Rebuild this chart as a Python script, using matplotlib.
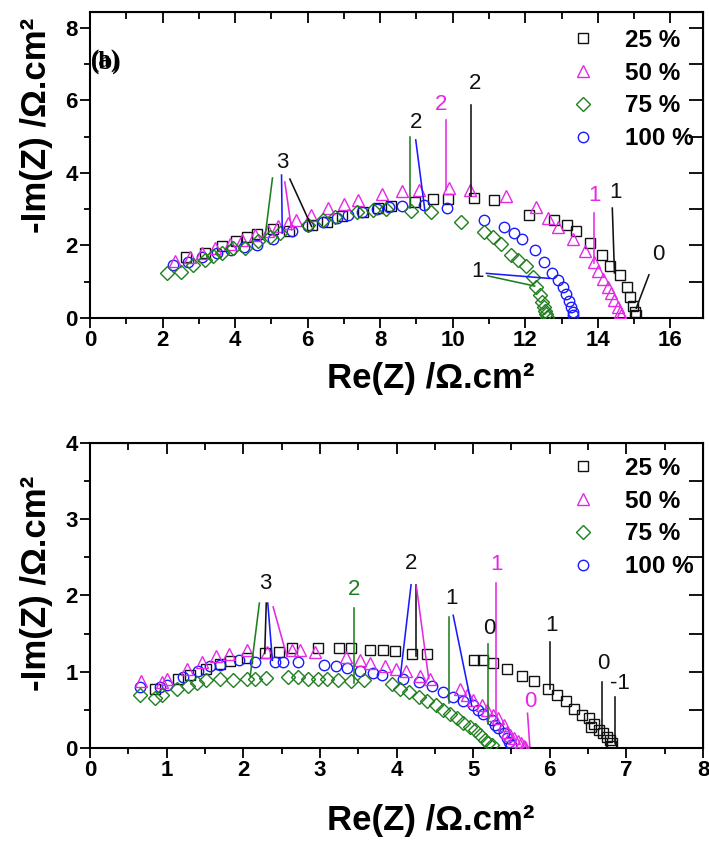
import matplotlib
matplotlib.use("Agg")
import matplotlib.pyplot as plt
from matplotlib.ticker import MultipleLocator

plt.rcParams['font.family'] = ['Liberation Sans', 'DejaVu Sans']

labels = ["25 %", "50 %", "75 %", "100 %"]

# ---------- top panel data (Re, -Im) ----------
a25_x = [2.64, 3.17, 3.65, 4.02, 4.33, 4.59, 5.05, 5.49, 6.11, 6.52, 6.95, 7.53, 7.94, 8.31, 8.95, 9.46, 9.87,
         10.59, 11.14, 12.10, 12.78, 13.15, 13.41, 13.79, 14.12, 14.34, 14.60, 14.80, 14.90, 14.97, 15.03, 15.05]
a25_y = [1.69, 1.78, 1.99, 2.13, 2.23, 2.32, 2.45, 2.41, 2.57, 2.66, 2.80, 2.93, 3.02, 3.10, 3.19, 3.27, 3.29,
         3.32, 3.24, 2.84, 2.70, 2.57, 2.41, 2.08, 1.74, 1.44, 1.19, 0.86, 0.57, 0.33, 0.17, 0.08]
a50_x = [2.34, 2.75, 3.10, 3.45, 3.86, 4.20, 4.55, 4.90, 5.19, 5.45, 5.69, 6.10, 6.57, 7.01, 7.39, 8.06, 8.61,
         9.07, 9.90, 10.49, 11.48, 12.29, 12.63, 12.90, 13.32, 13.64, 13.89, 14.00, 14.14, 14.28, 14.37, 14.46,
         14.55, 14.60, 14.65]
a50_y = [1.58, 1.68, 1.80, 1.92, 2.05, 2.15, 2.28, 2.40, 2.55, 2.62, 2.70, 2.85, 3.03, 3.14, 3.25, 3.41, 3.50,
         3.53, 3.59, 3.53, 3.37, 3.05, 2.75, 2.52, 2.17, 1.85, 1.55, 1.30, 1.07, 0.86, 0.68, 0.50,
         0.31, 0.17, 0.08]
a75_x = [2.11, 2.50, 2.85, 3.17, 3.40, 3.63, 3.95, 4.27, 4.64, 4.96, 5.23, 6.01, 6.43, 6.75, 7.35, 7.81, 8.17,
         8.86, 9.39, 10.24, 10.85, 11.11, 11.34, 11.62, 11.80, 12.03, 12.21, 12.30, 12.40, 12.47, 12.52, 12.55,
         12.58, 12.61]
a75_y = [1.25, 1.28, 1.46, 1.60, 1.71, 1.78, 1.92, 1.92, 2.12, 2.24, 2.34, 2.57, 2.70, 2.79, 2.93, 2.98, 3.01,
         2.95, 2.91, 2.64, 2.38, 2.22, 2.03, 1.74, 1.60, 1.42, 1.14, 0.86, 0.63, 0.45, 0.31, 0.20,
         0.11, 0.04]
a100_x = [2.30, 2.70, 3.10, 3.50, 3.90, 4.25, 4.59, 5.05, 5.56, 6.00, 6.43, 6.80, 7.12, 7.50, 7.90, 8.25, 8.61,
          9.21, 9.85, 10.85, 11.41, 11.69, 11.92, 12.26, 12.52, 12.75, 12.90, 13.04, 13.13, 13.20, 13.27, 13.31,
          13.33]
a100_y = [1.46, 1.55, 1.68, 1.78, 1.88, 1.95, 2.01, 2.17, 2.40, 2.55, 2.66, 2.75, 2.84, 2.92, 3.00, 3.05, 3.09,
          3.12, 3.04, 2.70, 2.50, 2.34, 2.17, 1.88, 1.53, 1.25, 1.05, 0.86, 0.66, 0.48, 0.31, 0.17,
          0.08]

# ---------- bottom panel data ----------
b25_x = [0.85, 1.15, 1.31, 1.52, 1.70, 1.83, 2.05, 2.28, 2.46, 2.63, 2.98, 3.25, 3.40, 3.66, 3.82, 3.98, 4.20,
         4.40, 5.01, 5.13, 5.26, 5.44, 5.64, 5.79, 5.98, 6.09, 6.21, 6.32, 6.42, 6.51, 6.58, 6.54, 6.64, 6.70,
         6.75, 6.79, 6.81, 6.80]
b25_y = [0.77, 0.91, 0.96, 1.03, 1.10, 1.14, 1.18, 1.24, 1.26, 1.31, 1.31, 1.31, 1.31, 1.29, 1.28, 1.27, 1.23,
         1.23, 1.15, 1.15, 1.11, 1.03, 0.94, 0.88, 0.77, 0.70, 0.61, 0.51, 0.43, 0.39, 0.32, 0.28, 0.24, 0.19,
         0.14, 0.10, 0.06, 0.03]
b50_x = [0.66, 0.94, 1.01, 1.26, 1.46, 1.65, 1.81, 2.05, 2.31, 2.63, 2.74, 2.94, 3.34, 3.52, 3.65, 3.85, 3.99,
         4.13, 4.31, 4.44, 4.83, 4.92, 5.00, 5.11, 5.18, 5.26, 5.33, 5.40, 5.44, 5.48, 5.53, 5.58, 5.62, 5.66,
         5.68]
b50_y = [0.88, 0.87, 0.91, 1.04, 1.13, 1.20, 1.23, 1.29, 1.26, 1.29, 1.28, 1.26, 1.19, 1.16, 1.12, 1.07, 1.03,
         1.01, 0.94, 0.90, 0.78, 0.70, 0.63, 0.56, 0.50, 0.43, 0.39, 0.30, 0.21, 0.17, 0.13, 0.09, 0.06, 0.03,
         0.01]
b75_x = [0.65, 0.85, 0.94, 1.13, 1.28, 1.39, 1.51, 1.69, 1.86, 2.05, 2.15, 2.30, 2.59, 2.72, 2.85, 2.98, 3.09,
         3.24, 3.40, 3.57, 3.94, 4.05, 4.16, 4.29, 4.40, 4.52, 4.61, 4.70, 4.79, 4.87, 4.96, 5.03, 5.09, 5.16,
         5.20, 5.24]
b75_y = [0.69, 0.65, 0.70, 0.77, 0.81, 0.85, 0.89, 0.90, 0.89, 0.90, 0.91, 0.92, 0.93, 0.93, 0.91, 0.91, 0.90,
         0.89, 0.88, 0.89, 0.84, 0.78, 0.74, 0.67, 0.62, 0.56, 0.50, 0.45, 0.39, 0.33, 0.28, 0.23, 0.17, 0.11,
         0.07, 0.04]
b100_x = [0.65, 0.91, 1.00, 1.21, 1.41, 1.57, 1.69, 1.94, 2.15, 2.42, 2.52, 2.71, 3.05, 3.21, 3.35, 3.52, 3.69,
          3.81, 4.09, 4.30, 4.46, 4.61, 4.74, 4.87, 5.00, 5.07, 5.13, 5.24, 5.29, 5.33, 5.40, 5.44, 5.47, 5.50]
b100_y = [0.80, 0.80, 0.83, 0.93, 1.01, 1.07, 1.09, 1.15, 1.13, 1.13, 1.13, 1.13, 1.09, 1.07, 1.05, 1.01, 0.98,
          0.96, 0.91, 0.86, 0.81, 0.73, 0.67, 0.62, 0.56, 0.50, 0.45, 0.37, 0.30, 0.26, 0.19, 0.13, 0.08, 0.04]

# ---------- frequency-decade annotations: (text, text colour, tx, ty, [(line colour, x0, y0, x1, y1), ...]) ----------
ann_top = [
    ("3", "k", 5.31, 4.28, [("g", 5.03, 3.86, 4.82, 2.20), ("b", 5.28, 3.94, 5.30, 2.34),
                            ("m", 5.37, 3.75, 5.56, 2.43), ("k", 5.51, 3.83, 6.11, 2.52)]),
    ("2", "k", 8.98, 5.39, [("g", 8.83, 5.00, 8.83, 3.03), ("b", 8.98, 4.91, 9.23, 2.98)]),
    ("2", "m", 9.69, 5.90, [("m", 9.81, 5.46, 9.81, 3.53)]),
    ("2", "k", 10.61, 6.48, [("k", 10.51, 5.88, 10.51, 3.35)]),
    ("1", "m", 13.91, 3.39, [("m", 13.89, 2.89, 13.89, 1.51)]),
    ("1", "k", 14.49, 3.45, [("k", 14.40, 3.03, 14.46, 1.24)]),
    ("0", "k", 15.68, 1.74, [("k", 15.41, 1.19, 15.06, 0.27)]),
    ("1", "k", 10.67, 1.28, [("b", 10.93, 1.23, 12.67, 1.09), ("g", 10.97, 1.16, 12.26, 0.88)]),
]
ann_bot = [
    ("3", "k", 2.29, 2.16, [("g", 2.21, 1.90, 2.09, 0.94), ("k", 2.30, 1.90, 2.28, 1.24),
                            ("b", 2.32, 1.90, 2.38, 1.15), ("m", 2.39, 1.85, 2.57, 1.20)]),
    ("2", "g", 3.44, 2.08, [("g", 3.44, 1.83, 3.44, 0.85)]),
    ("2", "k", 4.19, 2.42, [("b", 4.19, 2.14, 4.05, 0.94), ("k", 4.26, 2.14, 4.26, 1.20),
                            ("m", 4.26, 2.12, 4.42, 0.91)]),
    ("1", "k", 4.72, 1.96, [("g", 4.68, 1.72, 4.68, 0.59), ("b", 4.74, 1.74, 4.98, 0.56)]),
    ("0", "k", 5.21, 1.57, [("g", 5.20, 1.37, 5.20, 0.32)]),
    ("1", "m", 5.30, 2.40, [("m", 5.30, 2.16, 5.30, 0.455)]),
    ("0", "m", 5.74, 0.61, [("m", 5.71, 0.455, 5.74, 0.02)]),
    ("1", "k", 6.02, 1.61, [("k", 6.00, 1.39, 6.00, 0.78)]),
    ("0", "k", 6.70, 1.11, [("k", 6.68, 0.87, 6.68, 0.13)]),
    ("-1", "k", 6.92, 0.85, [("k", 6.85, 0.67, 6.85, 0.06)]),
]

COL = {"k": "#111111", "m": "#e628e6", "g": "#1f7f1f", "b": "#1a1aff"}
STY = [("k", "s", 7.0), ("m", "^", 8.0), ("g", "D", 7.0), ("b", "o", 7.5)]
ZORD = [2, 4, 5, 3]

fig = plt.figure(figsize=(7.09, 8.47), dpi=100)
ax1 = fig.add_axes([0.127, 0.6246, 0.8645, 0.3613])
ax2 = fig.add_axes([0.127, 0.1169, 0.8645, 0.3601])


def draw(ax, series, anns, xlim, ylim, xmaj, xmin, ymaj, ymin, ylab_y, xlab_y, leg_y):
    handles = []
    for (c, m, ms), z, (xs, ys), lab in zip(STY, ZORD, series, labels):
        h, = ax.plot(xs, ys, ls="none", marker=m, ms=ms, mfc="none", mec=COL[c], mew=1.0,
                     zorder=z, label=lab)
        handles.append(h)
    for txt, tc, tx, ty, segs in anns:
        for lc, x0, y0, x1, y1 in segs:
            ax.plot([x0, x1], [y0, y1], color=COL[lc], lw=1.15, zorder=6)
        ax.text(tx, ty, txt, color=COL[tc], fontsize=16, ha="center", va="center", zorder=7)
    ax.set_xlim(*xlim)
    ax.set_ylim(*ylim)
    ax.xaxis.set_major_locator(MultipleLocator(xmaj))
    ax.xaxis.set_minor_locator(MultipleLocator(xmin))
    ax.yaxis.set_major_locator(MultipleLocator(ymaj))
    ax.yaxis.set_minor_locator(MultipleLocator(ymin))
    ax.tick_params(which="major", direction="out", length=7, width=1.3, labelsize=16, pad=2)
    ax.tick_params(which="minor", direction="out", length=4, width=1.3)
    for lbl in ax.get_xticklabels() + ax.get_yticklabels():
        lbl.set_fontweight("bold")
    for s in ax.spines.values():
        s.set_linewidth(1.5)
    # inward ticks on top and right
    top = ax.secondary_xaxis("top")
    top.xaxis.set_major_locator(MultipleLocator(xmaj))
    top.xaxis.set_minor_locator(MultipleLocator(xmin))
    top.tick_params(which="major", direction="in", length=8, width=1.3, labeltop=False)
    top.tick_params(which="minor", direction="in", length=5, width=1.3)
    right = ax.secondary_yaxis("right")
    right.yaxis.set_major_locator(MultipleLocator(ymin))
    right.tick_params(which="major", direction="in", length=10, width=1.3, labelright=False)
    ax.set_xlabel("Re(Z) /\u03a9.cm\u00b2", fontsize=25, fontweight="bold")
    ax.set_ylabel("-Im(Z) /\u03a9.cm\u00b2", fontsize=25, fontweight="bold")
    ax.xaxis.set_label_coords(0.556, xlab_y)
    ax.yaxis.set_label_coords(-0.06, ylab_y)
    order = [handles[0], handles[1], handles[2], handles[3]]
    leg = ax.legend(order, labels, loc="upper right", bbox_to_anchor=(1.013, leg_y), frameon=False,
                    prop={"size": 17.5, "weight": "bold"}, handlelength=0.9, handletextpad=1.3,
                    labelspacing=0.4, borderaxespad=0.3, markerscale=1.0)
    return leg


draw(ax1, [(a25_x, a25_y), (a50_x, a50_y), (a75_x, a75_y), (a100_x, a100_y)], ann_top,
     (0, 16.9), (0, 8.44), 2, 1, 2, 1, 0.63, -0.145, 1.0)
draw(ax2, [(b25_x, b25_y), (b50_x, b50_y), (b75_x, b75_y), (b100_x, b100_y)], ann_bot,
     (0, 8), (0, 4), 1, 0.5, 1, 0.5, 0.54, -0.185, 1.01)

# overlapping panel tags as in the original
for tag in ("(a)", "(b)"):
    ax1.text(0.002, 0.837, tag, transform=ax1.transAxes, fontsize=18, fontweight="bold",
             family=["Liberation Serif", "DejaVu Serif"], va="center", ha="left")

fig.savefig("out.png", dpi=100)
